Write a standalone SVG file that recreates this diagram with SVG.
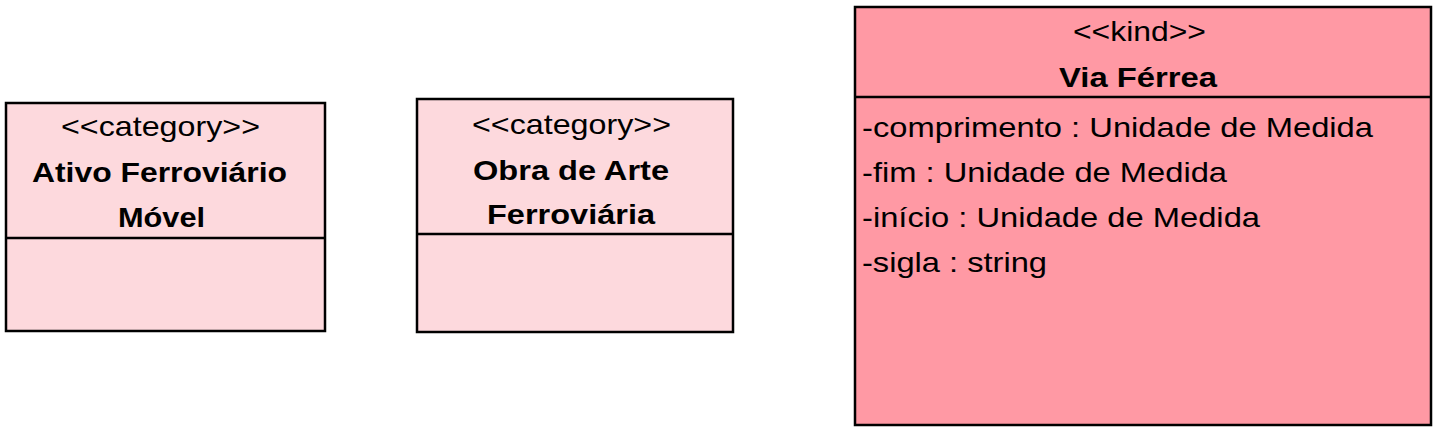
<svg xmlns="http://www.w3.org/2000/svg" width="1443" height="438" viewBox="0 0 1443 438">
<style>
.box{stroke:#000;stroke-width:2.5}
.cat{fill:#FDD9DD}
.kind{fill:#FF99A4}
.div{stroke:#000;stroke-width:2.5}
text{font-family:"Liberation Sans",Arial,sans-serif;font-size:28px;fill:#000}
.b{font-weight:bold}
</style>
<rect width="1443" height="438" fill="#fff"/>
<g id="ativo-ferroviario-movel">
<rect class="box cat" x="6" y="103" width="319" height="228"/>
<line class="div" x1="6" y1="238" x2="325" y2="238"/>
<text x="61" y="136" textLength="199" lengthAdjust="spacingAndGlyphs">&lt;&lt;category&gt;&gt;</text>
<text class="b" x="32" y="182" textLength="255" lengthAdjust="spacingAndGlyphs">Ativo Ferroviário</text>
<text class="b" x="118" y="227" textLength="87" lengthAdjust="spacingAndGlyphs">Móvel</text>
</g>
<g id="obra-de-arte-ferroviaria">
<rect class="box cat" x="417" y="99" width="316" height="233"/>
<line class="div" x1="417" y1="234" x2="733" y2="234"/>
<text x="472" y="134" textLength="199" lengthAdjust="spacingAndGlyphs">&lt;&lt;category&gt;&gt;</text>
<text class="b" x="473" y="180" textLength="196" lengthAdjust="spacingAndGlyphs">Obra de Arte</text>
<text class="b" x="487" y="224" textLength="168" lengthAdjust="spacingAndGlyphs">Ferroviária</text>
</g>
<g id="via-ferrea">
<rect class="box kind" x="855" y="7" width="576" height="418"/>
<line class="div" x1="855" y1="97" x2="1431" y2="97"/>
<text x="1073" y="41" textLength="133" lengthAdjust="spacingAndGlyphs">&lt;&lt;kind&gt;&gt;</text>
<text class="b" x="1059" y="87" textLength="158" lengthAdjust="spacingAndGlyphs">Via Férrea</text>
<text x="862" y="137" textLength="511" lengthAdjust="spacingAndGlyphs">-comprimento : Unidade de Medida</text>
<text x="862" y="182" textLength="365" lengthAdjust="spacingAndGlyphs">-fim : Unidade de Medida</text>
<text x="862" y="227" textLength="398" lengthAdjust="spacingAndGlyphs">-início : Unidade de Medida</text>
<text x="862" y="272" textLength="185" lengthAdjust="spacingAndGlyphs">-sigla : string</text>
</g>
<g id="connectors"></g>
</svg>
